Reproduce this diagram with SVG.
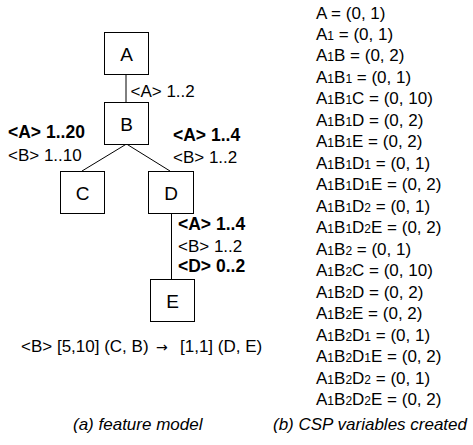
<svg xmlns="http://www.w3.org/2000/svg" width="473" height="445" viewBox="0 0 473 445">
<style>
text { font-family: "Liberation Sans", Arial, sans-serif; fill: #000; }
.box { fill: #fff; stroke: #000; stroke-width: 1; }
.nl { font-size: 19px; text-anchor: middle; }
.lb { font-size: 17px; }
.b { font-weight: bold; font-size: 17.5px; }
.v { font-size: 17px; }
.s { font-size: 12px; }
.arr { font-family: "DejaVu Sans", sans-serif; font-size: 14px; }
.cap { font-size: 17px; font-style: italic; }
.edge { stroke: #000; stroke-width: 1; fill: none; }
</style>
<rect width="473" height="445" fill="#fff"/>
<g id="connectors">
<line class="edge" x1="126" y1="74" x2="126" y2="102"/>
<line class="edge" x1="126.5" y1="144" x2="82" y2="171"/>
<line class="edge" x1="126.5" y1="144" x2="170" y2="171"/>
<line class="edge" x1="171.5" y1="213" x2="171.5" y2="279"/>
</g>
<g id="node-A"><rect class="box" x="104.5" y="32.5" width="44" height="42"/><text class="nl" x="126.5" y="60.5">A</text></g>
<g id="node-B"><rect class="box" x="104.5" y="102.5" width="44" height="42"/><text class="nl" x="126.5" y="130.5">B</text></g>
<g id="node-C"><rect class="box" x="60.5" y="171.5" width="44" height="42"/><text class="nl" x="82.5" y="199.5">C</text></g>
<g id="node-D"><rect class="box" x="148.5" y="171.5" width="45" height="42"/><text class="nl" x="171" y="199.5">D</text></g>
<g id="node-E"><rect class="box" x="150.5" y="279.5" width="44" height="42"/><text class="nl" x="172.5" y="307.5">E</text></g>
<g id="labels">
<text class="lb" x="130.5" y="96.5">&lt;A&gt; 1..2</text>
<text class="lb b" x="8" y="138">&lt;A&gt; 1..20</text>
<text class="lb" x="8" y="160.5">&lt;B&gt; 1..10</text>
<text class="lb b" x="173" y="140.5">&lt;A&gt; 1..4</text>
<text class="lb" x="173" y="162.5">&lt;B&gt; 1..2</text>
<text class="lb b" x="178" y="230">&lt;A&gt; 1..4</text>
<text class="lb" x="178" y="251.5">&lt;B&gt; 1..2</text>
<text class="lb b" x="178" y="271.5">&lt;D&gt; 0..2</text>
<text class="lb" x="21" y="351.5">&lt;B&gt; [5,10] (C, B) <tspan class="arr" x="156">→</tspan> <tspan x="180">[1,1] (D, E)</tspan></text>
</g>
<g id="variables">
<text class="v" x="316" y="18.5">A = (0, 1)</text>
<text class="v" x="316" y="40">A<tspan class="s">1</tspan> = (0, 1)</text>
<text class="v" x="316" y="61.4">A<tspan class="s">1</tspan>B = (0, 2)</text>
<text class="v" x="316" y="82.9">A<tspan class="s">1</tspan>B<tspan class="s">1</tspan> = (0, 1)</text>
<text class="v" x="316" y="104.4">A<tspan class="s">1</tspan>B<tspan class="s">1</tspan>C = (0, 10)</text>
<text class="v" x="316" y="125.8">A<tspan class="s">1</tspan>B<tspan class="s">1</tspan>D = (0, 2)</text>
<text class="v" x="316" y="147.3">A<tspan class="s">1</tspan>B<tspan class="s">1</tspan>E = (0, 2)</text>
<text class="v" x="316" y="168.8">A<tspan class="s">1</tspan>B<tspan class="s">1</tspan>D<tspan class="s">1</tspan> = (0, 1)</text>
<text class="v" x="316" y="190.3">A<tspan class="s">1</tspan>B<tspan class="s">1</tspan>D<tspan class="s">1</tspan>E = (0, 2)</text>
<text class="v" x="316" y="211.7">A<tspan class="s">1</tspan>B<tspan class="s">1</tspan>D<tspan class="s">2</tspan> = (0, 1)</text>
<text class="v" x="316" y="233.2">A<tspan class="s">1</tspan>B<tspan class="s">1</tspan>D<tspan class="s">2</tspan>E = (0, 2)</text>
<text class="v" x="316" y="254.7">A<tspan class="s">1</tspan>B<tspan class="s">2</tspan> = (0, 1)</text>
<text class="v" x="316" y="276.1">A<tspan class="s">1</tspan>B<tspan class="s">2</tspan>C = (0, 10)</text>
<text class="v" x="316" y="297.6">A<tspan class="s">1</tspan>B<tspan class="s">2</tspan>D = (0, 2)</text>
<text class="v" x="316" y="319.1">A<tspan class="s">1</tspan>B<tspan class="s">2</tspan>E = (0, 2)</text>
<text class="v" x="316" y="340.5">A<tspan class="s">1</tspan>B<tspan class="s">2</tspan>D<tspan class="s">1</tspan> = (0, 1)</text>
<text class="v" x="316" y="362">A<tspan class="s">1</tspan>B<tspan class="s">2</tspan>D<tspan class="s">1</tspan>E = (0, 2)</text>
<text class="v" x="316" y="383.5">A<tspan class="s">1</tspan>B<tspan class="s">2</tspan>D<tspan class="s">2</tspan> = (0, 1)</text>
<text class="v" x="316" y="405">A<tspan class="s">1</tspan>B<tspan class="s">2</tspan>D<tspan class="s">2</tspan>E = (0, 2)</text>
</g>
<g id="captions">
<text class="cap" x="73" y="430">(a) feature model</text>
<text class="cap" x="273" y="430">(b) CSP variables created</text>
</g>
</svg>
